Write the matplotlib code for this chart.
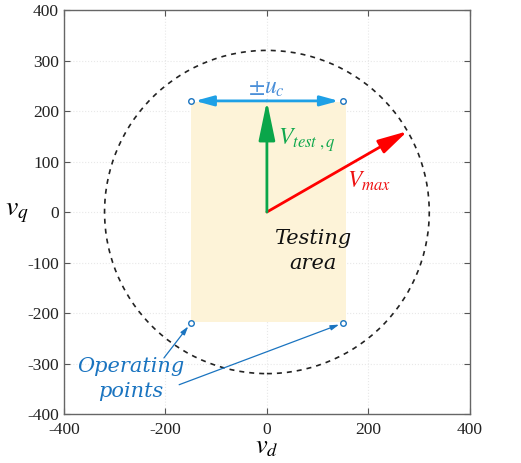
import matplotlib
matplotlib.use('Agg')
import matplotlib.pyplot as plt
from matplotlib.patches import Circle, Rectangle
import numpy as np

# chart values
v_max = 320
v_max_angle = 30
op_d = [-150, 150, -150, 150]
op_q = [220, 220, -220, -220]
area_d = [-150, 156]
area_q = [-218, 218]
v_test_q = 220
ticks = [-400, -200, 0, 200, 400]
yticks = [-400, -300, -200, -100, 0, 100, 200, 300, 400]

plt.rcParams['mathtext.fontset'] = 'stix'
plt.rcParams['font.family'] = 'Liberation Serif'
plt.rcParams['axes.unicode_minus'] = False

fig = plt.figure(figsize=(5.21, 4.63), dpi=100)
ax = fig.add_axes([0.1228, 0.1058, 0.779, 0.8726])

ax.set_xlim(-400, 400)
ax.set_ylim(-400, 400)
ax.set_xticks(ticks)
ax.set_yticks(yticks)
ax.tick_params(direction='in', top=True, right=True, labelsize=12.5,
               length=4, color='#555555', labelcolor='#222222')
ax.tick_params(axis='x', pad=6)
for s in ax.spines.values():
    s.set_color('#666666')
    s.set_linewidth(1.0)
ax.grid(True, color='#e8e8e8', ls=':', lw=0.8)
ax.set_axisbelow(True)

# testing area
ax.add_patch(Rectangle((area_d[0], area_q[0]), area_d[1] - area_d[0],
                       area_q[1] - area_q[0], facecolor='#fdf3d8',
                       edgecolor='none', zorder=1))

# voltage limit circle
ax.add_patch(Circle((0, 0), v_max, fill=False, ec='#222222', lw=1.2,
                    ls=(0, (3, 3)), zorder=2))

tip_d = v_max * np.cos(np.radians(v_max_angle))
tip_q = v_max * np.sin(np.radians(v_max_angle))

# V_max arrow
ax.annotate('', xy=(tip_d, tip_q), xytext=(0, 0),
            arrowprops=dict(arrowstyle='-|>,head_length=18,head_width=4.5',
                            mutation_scale=1, color='#ff0000', lw=2,
                            shrinkA=0, shrinkB=0), zorder=4)

# V_test,q arrow
ax.annotate('', xy=(0, v_test_q), xytext=(0, 0),
            arrowprops=dict(arrowstyle='-|>,head_length=24,head_width=5',
                            mutation_scale=1, color='#0aa64a', lw=2,
                            shrinkA=0, shrinkB=0), zorder=4)

# +-u_c arrow
for d in (op_d[0], op_d[1]):
    ax.annotate('', xy=(d, op_q[0]), xytext=(0, op_q[0]),
                arrowprops=dict(arrowstyle='-|>,head_length=11,head_width=3',
                                mutation_scale=1, color='#1ea0e6', lw=2,
                                shrinkA=0, shrinkB=3), zorder=3)

# operating points
ax.plot(op_d, op_q, 'o', ms=4, mfc='white', mec='#1a74c0', mew=1, zorder=5)

# pointers to the lower operating points
ax.annotate('', xy=(op_d[2], op_q[2]), xytext=(-203, -289),
            arrowprops=dict(arrowstyle='-|>,head_length=5,head_width=1.5',
                            mutation_scale=1, color='#1a74c0', lw=0.9,
                            shrinkA=0, shrinkB=3), zorder=5)
ax.annotate('', xy=(op_d[3], op_q[3]), xytext=(-173, -342),
            arrowprops=dict(arrowstyle='-|>,head_length=5,head_width=1.5',
                            mutation_scale=1, color='#1a74c0', lw=0.9,
                            shrinkA=0, shrinkB=3), zorder=5)

ax.text(0, 245, r'$\pm u_c$', color='#4a8fd8', fontsize=17,
        ha='center', va='center', zorder=6)
ax.text(22, 142, r'$V_{test\ ,q}$', color='#12a84e', fontsize=17,
        ha='left', va='center', zorder=6)
ax.text(158, 60, r'$V_{max}$', color='#ee1111', fontsize=17,
        ha='left', va='center', zorder=6)
ax.text(90, -78, 'Testing\narea', style='italic', fontsize=15,
        family='DejaVu Serif', ha='center', va='center', linespacing=1.4,
        color='#111111', zorder=6)
ax.text(-268, -330, 'Operating\npoints', style='italic', fontsize=15,
        family='DejaVu Serif', ha='center', va='center', linespacing=1.4,
        color='#1a74c0', zorder=6)

ax.set_xlabel(r'$v_d$', fontsize=19, va='center')
ax.xaxis.set_label_coords(0.5, -0.085)
ax.set_ylabel(r'$v_q$', fontsize=20, rotation=0, ha='center', va='center')
ax.yaxis.set_label_coords(-0.115, 0.5)

fig.savefig('out.png', dpi=100)
